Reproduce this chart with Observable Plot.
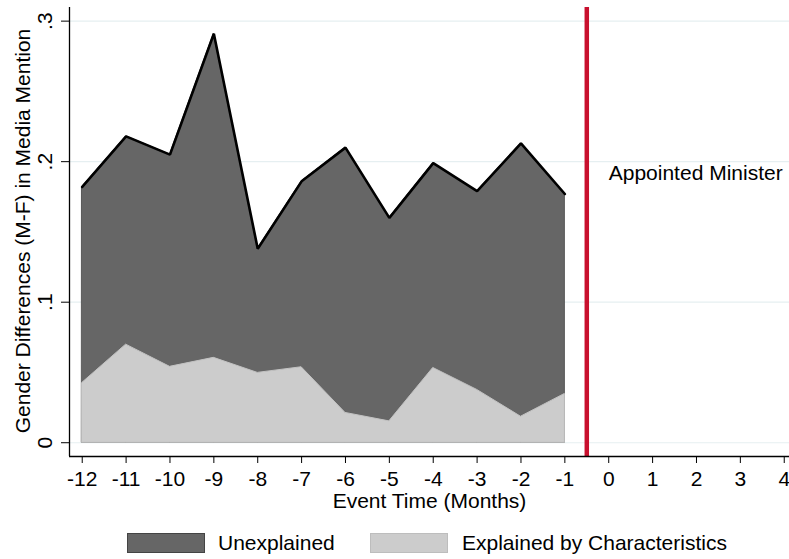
<!DOCTYPE html>
<html>
<head>
<meta charset="utf-8">
<script src="https://cdn.jsdelivr.net/npm/d3@7"></script>
<script src="https://cdn.jsdelivr.net/npm/@observablehq/plot@0.6"></script>
<style>
  html, body { margin: 0; padding: 0; background: #fff; }
  #wrap { position: relative; width: 789px; height: 559px; font-family: "Liberation Sans", Arial, Helvetica, sans-serif; }
  #chart { position: absolute; left: 0; top: 0; }
  .lg-box { position: absolute; top: 533px; width: 78px; height: 20px; box-sizing: border-box; }
  .lg-text { position: absolute; top: 531px; font-size: 21px; line-height: 24px; color: #000; white-space: nowrap; }
</style>
</head>
<body>
<div id="wrap">
  <div id="chart"></div>
</div>
<script>
// ---- data ----
const months = [-12, -11, -10, -9, -8, -7, -6, -5, -4, -3, -2, -1];
const totalGap = [0.182, 0.218, 0.205, 0.291, 0.138, 0.186, 0.210, 0.160, 0.199, 0.179, 0.213, 0.177];
const explainedGap = [0.0425, 0.0698, 0.054, 0.0604, 0.0497, 0.0537, 0.0212, 0.0152, 0.0532, 0.0376, 0.0185, 0.0347];
const xTicks = [-12, -11, -10, -9, -8, -7, -6, -5, -4, -3, -2, -1, 0, 1, 2, 3, 4];
const yTicks = [0, 0.1, 0.2, 0.3];
const yTickLabels = ["0", ".1", ".2", ".3"];
const eventLine = [-0.5];
const annX = [0];
const annY = [0.192];
const annText = ["Appointed Minister"];
const seriesNames = ["Unexplained", "Explained by Characteristics"];
const seriesColors = ["#666666", "#cccccc"];
const xTitle = "Event Time (Months)";
const yTitle = "Gender Differences (M-F) in Media Mention";

const xDomain = [-12.29, 4.12];
const yDomain = [-0.0098, 0.3097];

const rows = months.map((m, i) => ({month: m, total: totalGap[i], explained: explainedGap[i]}));

const W = 789, H = 520;
const font = "Liberation Sans, Arial, Helvetica, sans-serif";
const FS = 21;

const chart = Plot.plot({
  width: W,
  height: H,
  marginLeft: 69,
  marginRight: 0,
  marginTop: 7,
  marginBottom: 64,
  style: {fontFamily: font, fontSize: FS + "px", color: "#000", background: "#fff"},
  x: {domain: xDomain, ticks: xTicks, tickSize: 7, tickPadding: 8, tickFormat: d => String(d), label: null},
  y: {domain: yDomain, ticks: yTicks, tickSize: 8, tickFormat: () => "", label: null},
  marks: [
    Plot.ruleY(yTicks, {y: d => d, stroke: "#e6eff1", strokeWidth: 1.2}),
    Plot.areaY(rows, {x: "month", y1: 0, y2: "total", fill: seriesColors[0], stroke: "#555555", strokeWidth: 1}),
    Plot.areaY(rows, {x: "month", y1: 0, y2: "explained", fill: seriesColors[1], stroke: "#c2c2c2", strokeWidth: 1}),
    Plot.lineY(rows, {x: "month", y: "total", stroke: "#000", strokeWidth: 2.6, strokeLinejoin: "miter"}),
    Plot.ruleX(eventLine, {x: d => d, stroke: "#c8102e", strokeWidth: 4.5}),
    Plot.text(annText, {x: (d, i) => annX[i], y: (d, i) => annY[i], text: d => d, textAnchor: "start", dx: 0, fontSize: FS}),
    Plot.ruleX([xDomain[0]], {x: d => d, stroke: "#000", strokeWidth: 1.3}),
    Plot.ruleY([yDomain[0]], {y: d => d, stroke: "#000", strokeWidth: 1.3}),
    Plot.text(yTicks, {frameAnchor: "left", y: d => d, text: (d, i) => yTickLabels[i], rotate: -90, dx: -24, textAnchor: "middle", lineAnchor: "middle", fontSize: FS}),
    Plot.text([yTitle], {frameAnchor: "left", text: d => d, rotate: -90, dx: -46.5, dy: -1, textAnchor: "middle", lineAnchor: "middle", fontSize: FS}),
    Plot.text([xTitle], {frameAnchor: "bottom", text: d => d, dy: 45, textAnchor: "middle", lineAnchor: "middle", fontSize: FS})
  ]
});
document.getElementById("chart").appendChild(chart);

// ---- legend (HTML, below the plot) ----
const wrap = document.getElementById("wrap");
const legendBoxX = [127, 370];
const legendTextX = [218, 462];
const legendBorders = ["#444444", "#bdbdbd"];
seriesNames.forEach((name, i) => {
  const b = document.createElement("div");
  b.className = "lg-box";
  b.style.left = legendBoxX[i] + "px";
  b.style.background = seriesColors[i];
  b.style.border = "1.5px solid " + legendBorders[i];
  wrap.appendChild(b);
  const t = document.createElement("div");
  t.className = "lg-text";
  t.style.left = legendTextX[i] + "px";
  t.textContent = name;
  wrap.appendChild(t);
});
</script>
</body>
</html>
